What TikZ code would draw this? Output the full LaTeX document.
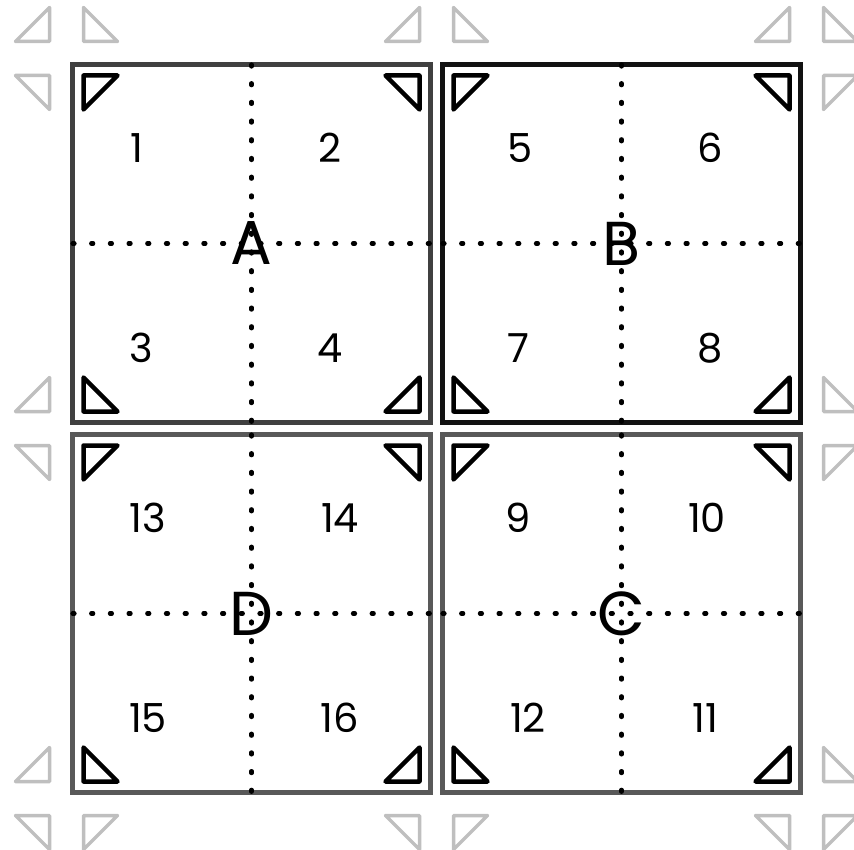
\documentclass[tikz,border=0pt]{standalone}
\usepackage{fontspec}
\setmainfont{Poppins}
\usetikzlibrary{positioning}
\tikzset{
  quad/.style={draw,line width=5pt,minimum size=358pt,inner sep=0pt,outer sep=0pt,font=\fontsize{62}{62}\selectfont},
  cell/.style={inner sep=0pt,font=\fontsize{40}{40}\selectfont},
  tri/.style={draw=black,line width=4.5pt,line join=round},
  ghost/.style={draw=black!25,line width=3.5pt,line join=round},
  guide/.style={line width=4.2pt,line cap=round,dash pattern=on 2pt off 16.7pt}
}

\begin{document}
\begin{tikzpicture}[x=1pt,y=-1pt]
    \useasboundingbox (0,0) rectangle (854,850);
    \clip (0,0) rectangle (854,850);
    \node[quad,draw=black!75] (A) at (251.5,243.5) {A};
    \node[quad,draw=black!93,right=12pt of A] (B) {B};
    \node[quad,draw=black!65,below=12pt of A] (D) {D};
    \node[quad,draw=black!65,right=12pt of D] (C) {C};
    \foreach \sq in {A,B,C,D} {
      \draw[guide] (\sq.north) -- (\sq.south);
      \draw[guide] (\sq.west) -- (\sq.east);
      \foreach \cor/\sx/\sy in {north west/1/1,north east/-1/1,south west/1/-1,south east/-1/-1}
        \draw[tri] ([shift={(\sx*11,\sy*11)}]\sq.\cor) -- ++(\sx*34,0) -- ++(-\sx*34,\sy*34) -- cycle;
    }
    \foreach \sq/\cor/\ox/\oy/\lx/\ly in {
        A/north west/11/-23/1/-1, A/north east/-11/-23/-1/-1,
        B/north west/11/-23/1/-1, B/north east/-11/-23/-1/-1,
        A/north west/-23/-23/-1/-1, B/north east/23/-23/1/-1,
        A/north west/-23/11/-1/1, A/south west/-23/-11/-1/-1,
        D/north west/-23/11/-1/1, D/south west/-23/-11/-1/-1,
        D/south west/11/23/1/1, D/south east/-11/23/-1/1,
        C/south west/11/23/1/1, C/south east/-11/23/-1/1,
        D/south west/-23/23/-1/1, C/south east/23/23/1/1,
        B/north east/23/11/1/1, B/south east/23/-11/1/-1,
        C/north east/23/11/1/1, C/south east/23/-11/1/-1}
      \draw[ghost] ([shift={(\ox,\oy)}]\sq.\cor) -- ++(\lx*34,0) -- ++(-\lx*34,\ly*34) -- cycle;
    \foreach \sq/\n/\dx/\dy in {
        A/1/64.5/83.5, A/2/257.5/83.5, A/3/68.5/283.5, A/4/257.5/283.5,
        B/5/77.5/83.5, B/6/267.5/83.5, B/7/75.5/283.5, B/8/267.5/283.5,
        C/9/75.5/83.5, C/10/264.5/83.5, C/12/85.5/283.5, C/11/262.5/283.5,
        D/13/75.5/83.5, D/14/267.5/83.5, D/15/75.5/283.5, D/16/267.5/283.5}
      \node[cell] (n\n) at ([shift={(\dx,\dy)}]\sq.north west) {\n};
  \end{tikzpicture}
\end{document}
